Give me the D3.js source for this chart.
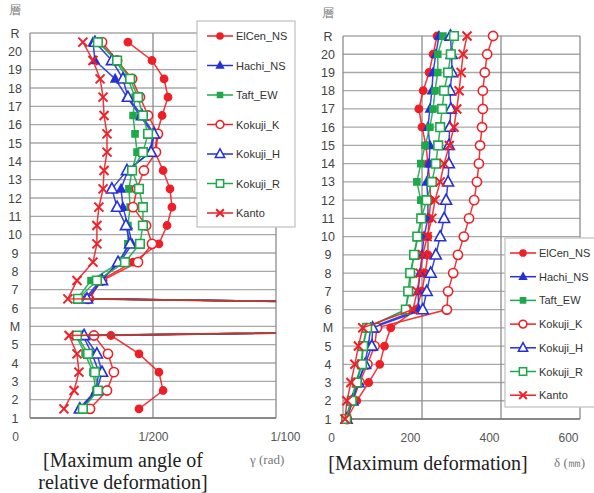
<!DOCTYPE html>
<html>
<head>
<meta charset="utf-8">
<script src="https://cdn.jsdelivr.net/npm/d3@7"></script>
<style>
  body { margin: 0; background: #fff; }
  svg { display: block; font-family: "Liberation Sans", Arial, sans-serif; }
</style>
</head>
<body>
<div id="chart"></div>
<script>
// story labels, bottom to top
let storyLabels = ["1","2","3","4","5","M","6","7","8","9","10","11","12","13","14","15","16","17","18","19","20","R"];
let seriesNames = ["ElCen_NS","Hachi_NS","Taft_EW","Kokuji_K","Kokuji_H","Kokuji_R","Kanto"];

// left: drift angle per story (x 1/1000 rad), plotted between floors
let driftLevels = [0.5,1.5,2.5,3.5,4.5,5.5,6.5,7.5,8.5,9.5,10.5,11.5,12.5,13.5,14.5,15.5,16.5,17.5,18.5,19.5,20.5];
let driftElCen  = [4.43,5.41,5.24,4.43,3.29,60,2.44,2.85,4.19,5.24,5.57,5.77,5.69,5.41,5.08,5.16,5.37,5.61,5.45,4.96,3.98];
let driftHachi  = [1.99,2.68,2.80,2.52,2.15,60,2.24,2.85,3.66,4.15,3.98,3.78,3.70,3.98,4.88,5.00,4.47,3.94,3.46,2.64,2.56];
let driftTaft   = [2.11,2.68,2.56,2.24,1.87,60,1.91,2.48,3.66,3.98,3.98,4.07,4.02,4.15,4.35,4.27,4.19,4.27,3.98,3.46,2.85];
let driftKokK   = [2.44,3.13,3.41,3.17,2.60,60,2.36,2.93,4.39,4.96,4.72,4.19,4.35,4.63,5.12,5.20,4.80,4.47,4.15,3.54,2.93];
let driftKokH   = [2.03,2.72,2.93,2.72,2.20,60,2.32,2.93,3.58,4.07,3.90,3.54,3.33,3.94,4.92,5.04,4.55,3.98,3.78,3.33,2.64];
let driftKokR   = [2.15,2.76,2.64,2.36,1.91,60,1.95,2.72,3.86,4.47,4.59,4.59,4.43,4.15,4.59,4.80,4.59,4.39,4.07,3.54,2.76];
let driftKanto  = [1.38,1.79,1.99,1.91,1.59,60,1.54,1.91,2.56,2.72,2.72,2.80,2.97,3.01,3.13,3.13,3.01,2.97,2.85,2.56,2.15];
let driftTicks = [0, 5, 10];
let driftTickLabels = ["0", "1/200", "1/100"];

// right: max deformation per floor (mm)
let floorLevels = [0,1,2,3,4,5,6,7,8,9,10,11,12,13,14,15,16,17,18,19,20,21];
let defElCen = [10,35,65,93,105,121,185,200,208,215,215,218,222,220,215,210,200,192,203,218,228,238];
let defHachi = [8,22,38,55,64,70,192,190,195,200,205,215,215,212,218,220,215,220,225,228,235,243];
let defTaft  = [7,20,33,46,50,60,158,168,172,180,190,200,197,187,197,208,220,228,233,240,240,253];
let defKokK  = [10,25,42,62,80,86,263,266,279,291,306,319,332,339,344,347,352,354,354,359,365,380];
let defKokH  = [9,24,39,56,73,75,202,212,222,235,246,256,261,266,268,268,270,273,271,276,275,272];
let defKokR  = [8,22,35,48,51,61,159,165,170,180,188,198,212,225,235,241,246,251,256,266,273,281];
let defKanto = [5,10,20,30,39,50,177,188,195,202,213,225,233,246,256,269,281,288,294,299,304,314];
let defTicks = [0, 200, 400, 600];

let red = "#ee1f26", blue = "#2430d8", green = "#1ea84a";
let styles = [
    {color: red,   shape: "circle",   open: false, size: 3.6},
    {color: blue,  shape: "triangle", open: false, size: 4},
    {color: green, shape: "square",   open: false, size: 3},
    {color: red,   shape: "circle",   open: true,  size: 4.6},
    {color: blue,  shape: "triangle", open: true,  size: 5.5},
    {color: green, shape: "square",   open: true,  size: 4.3},
    {color: red,   shape: "x",        open: true,  size: 4.5}
];

function markerPath(st) {
    let s = st.size;
    if (st.shape == "circle") return d3.symbol(d3.symbolCircle, Math.PI * s * s)();
    if (st.shape == "square") return `M${-s},${-s}H${s}V${s}H${-s}Z`;
    if (st.shape == "triangle") return `M0,${-s * 1.1}L${s},${s * 0.75}H${-s}Z`;
    return `M${-s},${-s}L${s},${s}M${-s},${s}L${s},${-s}`;
}

let svg = d3.select("#chart").append("svg")
    .attr("width", 594)
    .attr("height", 493);

function drawPanel(p) {
    let x = d3.scaleLinear().domain(p.xDomain).range([p.left, p.right]);
    let y = d3.scaleLinear().domain([0, 21]).range([p.bottom, p.top]);
    let g = svg.append("g");

    // horizontal grid at each floor
    g.selectAll(".hgrid").data(floorLevels).enter().append("line")
        .attr("x1", p.left).attr("x2", p.right)
        .attr("y1", d => y(d)).attr("y2", d => y(d))
        .attr("stroke", "#a8a8a8").attr("stroke-width", 1.3);

    // vertical grid
    g.selectAll(".vgrid").data(p.xTicks).enter().append("line")
        .attr("x1", d => x(d)).attr("x2", d => x(d))
        .attr("y1", p.top).attr("y2", p.bottom)
        .attr("stroke", "#8c8c8c").attr("stroke-width", 1.3);

    g.append("line")
        .attr("x1", p.left).attr("x2", p.right)
        .attr("y1", p.bottom).attr("y2", p.bottom)
        .attr("stroke", "#777").attr("stroke-width", 1.5);

    // floor labels
    let yAxis = d3.axisLeft(y).tickValues(floorLevels).tickFormat(i => storyLabels[i]).tickSize(0);
    let ya = g.append("g").attr("transform", `translate(${p.left},0)`).call(yAxis);
    ya.select(".domain").remove();
    ya.selectAll("text")
        .attr("x", p.yLabelX - p.left)
        .attr("text-anchor", "middle")
        .attr("font-size", "12.5px")
        .attr("fill", "#444")
        .attr("font-family", "Liberation Sans, Arial, sans-serif");

    // x tick labels
    let xAxis = d3.axisBottom(x).tickValues(p.xTicks).tickFormat((d, i) => p.xLabels[i]).tickSize(0);
    let xa = g.append("g").attr("transform", `translate(0,${p.bottom})`).call(xAxis);
    xa.select(".domain").remove();
    xa.selectAll("text")
        .attr("y", 14)
        .attr("dx", p.xLabelDx)
        .attr("font-size", "12px")
        .attr("fill", "#555")
        .attr("font-family", "Liberation Sans, Arial, sans-serif");

    g.append("text")
        .attr("x", p.yLabelX).attr("y", p.top - 19)
        .attr("text-anchor", "middle")
        .attr("font-size", "12px").attr("fill", "#777")
        .text("層");

    // series
    let clipId = "clip" + p.left;
    svg.append("clipPath").attr("id", clipId).append("rect")
        .attr("x", p.left - 8).attr("y", p.top - 10)
        .attr("width", p.right - p.left + 8).attr("height", p.bottom - p.top + 18);
    let sg = g.append("g").attr("clip-path", `url(#${clipId})`);

    let line = d3.line().x(d => x(d[0])).y(d => y(d[1]));
    p.series.forEach((vals, si) => {
        let st = styles[si];
        let pts = vals.map((v, i) => [v, p.levels[i]]);
        sg.append("path")
            .attr("d", line(pts))
            .attr("fill", "none")
            .attr("stroke", st.color)
            .attr("stroke-width", 1.5)
            .attr("opacity", 0.9);
        sg.selectAll(".m" + si).data(pts.filter(d => d[0] <= p.xDomain[1])).enter().append("path")
            .attr("transform", d => `translate(${x(d[0])},${y(d[1])})`)
            .attr("d", markerPath(st))
            .attr("fill", st.shape == "x" ? "none" : (st.open ? "#fff" : st.color))
            .attr("stroke", st.color)
            .attr("stroke-width", st.shape == "x" ? 2 : 1.6);
    });

    // captions
    p.caption.forEach((c, i) => {
        svg.append("text")
            .attr("x", p.captionX).attr("y", p.captionY + i * 22)
            .attr("text-anchor", "middle")
            .attr("font-family", "Liberation Serif, Times New Roman, serif")
            .attr("font-size", "20px").attr("fill", "#222")
            .text(c);
    });
    svg.append("text")
        .attr("x", p.unitX).attr("y", p.captionY - 3)
        .attr("font-family", "Liberation Serif, serif")
        .attr("font-size", "13px").attr("fill", "#777")
        .text(p.unit);

    // legend
    let lg = svg.append("g");
    lg.append("rect")
        .attr("x", p.legend.x).attr("y", p.legend.y)
        .attr("width", p.legend.w).attr("height", p.legend.h)
        .attr("fill", "#fff").attr("stroke", "#c4c4c4").attr("stroke-width", 1.3);
    seriesNames.forEach((name, si) => {
        let st = styles[si];
        let ly = p.legend.y + p.legend.first + si * p.legend.step;
        let lx = p.legend.x + p.legend.pad;
        lg.append("line")
            .attr("x1", lx).attr("x2", lx + 26)
            .attr("y1", ly).attr("y2", ly)
            .attr("stroke", st.color).attr("stroke-width", 1.5);
        lg.append("path")
            .attr("transform", `translate(${lx + 13},${ly})`)
            .attr("d", markerPath({shape: st.shape, size: st.size * 0.85}))
            .attr("fill", st.shape == "x" ? "none" : (st.open ? "#fff" : st.color))
            .attr("stroke", st.color)
            .attr("stroke-width", st.shape == "x" ? 2 : 1.5);
        lg.append("text")
            .attr("x", lx + 29).attr("y", ly + 4)
            .attr("font-size", "11px").attr("fill", "#333")
            .text(name);
    });
}

drawPanel({
    left: 30, right: 276, top: 33, bottom: 418,
    xDomain: [0, 10], xTicks: driftTicks, xLabels: driftTickLabels,
    xLabelDx: (d, i) => i == 0 ? -15 : (i == 2 ? 9 : 0),
    yLabelX: 15,
    levels: driftLevels,
    series: [driftElCen, driftHachi, driftTaft, driftKokK, driftKokH, driftKokR, driftKanto],
    caption: ["[Maximum angle of", "relative deformation]"],
    captionX: 123, captionY: 467,
    unit: "γ (rad)", unitX: 250,
    legend: {x: 197, y: 21, w: 98, h: 206, first: 15, step: 29.5, pad: 10}
});

drawPanel({
    left: 343, right: 580, top: 36, bottom: 419,
    xDomain: [0, 600], xTicks: defTicks, xLabels: defTicks.map(String),
    xLabelDx: -12,
    yLabelX: 328,
    levels: floorLevels,
    series: [defElCen, defHachi, defTaft, defKokK, defKokH, defKokR, defKanto],
    caption: ["[Maximum deformation]"],
    captionX: 428, captionY: 470,
    unit: "δ (㎜)", unitX: 554,
    legend: {x: 505, y: 238, w: 100, h: 169, first: 15, step: 23.7, pad: 5}
});
</script>
</body>
</html>
